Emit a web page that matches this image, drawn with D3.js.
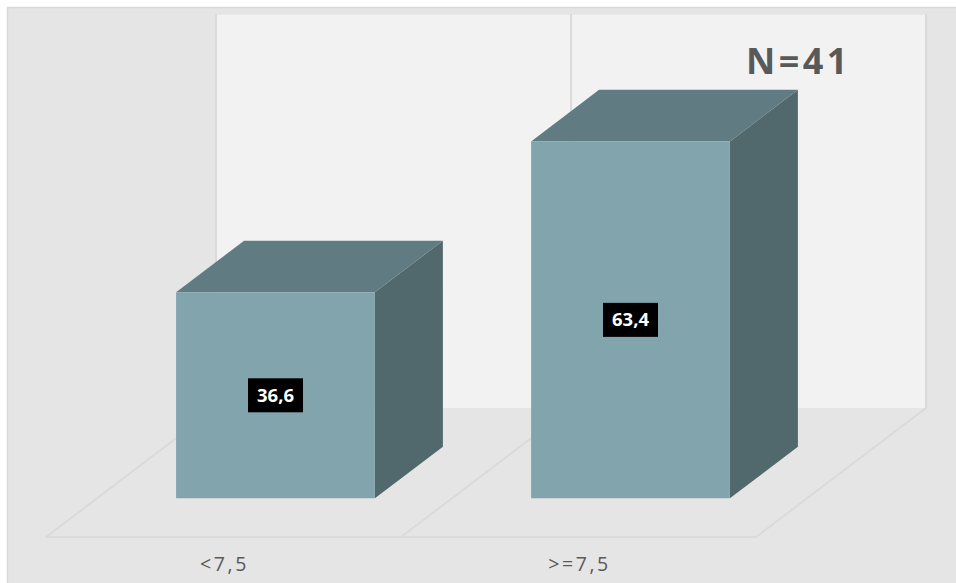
<!DOCTYPE html>
<html>
<head>
<meta charset="utf-8">
<script src="https://cdn.jsdelivr.net/npm/d3@7/dist/d3.min.js"></script>
<style>
html,body{margin:0;padding:0;background:#fff}
svg{display:block}
</style>
</head>
<body>
<svg id="chart" width="956" height="583"></svg>
<script>
const categories = ["<7,5", ">=7,5"];
const values = [36.6, 63.4];
const valueLabels = ["36,6", "63,4"];
const sampleNote = "N=41";
const axisMax = 70;

const svg = d3.select("#chart");

// Oblique projection: a floor point moves up and right as depth goes 0 to 1.
const depthX = d3.scaleLinear().domain([0, 1]).range([0, 170]);
const depthY = d3.scaleLinear().domain([0, 1]).range([0, 129]);
const floorX = d3.scaleLinear().domain([0, categories.length]).range([46, 756]);
const x = d3.scaleBand().domain(categories).range([47, 757]).paddingInner(0.44).paddingOuter(0.22);
const y = d3.scaleLinear().domain([0, axisMax]).range([537, 143]);
const pt = (px, v, d) => [px + depthX(d), y(v) - depthY(d)];
const poly = pts => d3.line()(pts) + "Z";

const chartBg = "#e5e5e5", wallFill = "#f2f2f2", gridColor = "#dadada";
const frontFill = "#82a4ad", topFill = "#607b81", sideFill = "#51686c";

// Chart area with its frame on the top and left edges
svg.append("rect").attr("x", 7.5).attr("y", 7.5).attr("width", 960).attr("height", 590)
  .attr("fill", chartBg).attr("stroke", "#d9d9d9").attr("stroke-width", 1.5);

// Back wall and floor
const [x0, x1] = floorX.range();
svg.append("path")
  .attr("d", poly([pt(x0, 0, 1), pt(x1, 0, 1), pt(x1, axisMax, 1), pt(x0, axisMax, 1)]))
  .attr("fill", wallFill);
svg.append("path")
  .attr("d", d3.line()([pt(x0, axisMax, 1), pt(x1, axisMax, 1)]))
  .attr("fill", "none").attr("stroke", "#e2e2e2").attr("stroke-width", 1);

// Category boundaries run along the floor and up the wall; the outline closes the floor
d3.range(categories.length + 1).forEach(i => {
  const b = floorX(i);
  svg.append("path")
    .attr("d", d3.line()([pt(b, 0, 0), pt(b, 0, 1), pt(b, axisMax, 1)]))
    .attr("fill", "none").attr("stroke", gridColor).attr("stroke-width", 2);
});
svg.append("path")
  .attr("d", d3.line()([pt(x0, 0, 0), pt(x1, 0, 0)]))
  .attr("fill", "none").attr("stroke", gridColor).attr("stroke-width", 2);

// Boxes: the front face sits 0.3 into the floor depth, the back face at 0.7
const dFront = 0.3, dBack = 0.7;
const bars = svg.selectAll("g.bar").data(categories.map((c, i) => ({c, v: values[i], label: valueLabels[i]})))
  .join("g").attr("class", "bar");

bars.append("path").attr("fill", sideFill)
  .attr("d", d => {
    const r = x(d.c) + x.bandwidth();
    return poly([pt(r, 0, dFront), pt(r, 0, dBack), pt(r, d.v, dBack), pt(r, d.v, dFront)]);
  });
bars.append("path").attr("fill", topFill)
  .attr("d", d => {
    const l = x(d.c), r = l + x.bandwidth();
    return poly([pt(l, d.v, dFront), pt(r, d.v, dFront), pt(r, d.v, dBack), pt(l, d.v, dBack)]);
  });
bars.append("path").attr("fill", frontFill)
  .attr("d", d => {
    const l = x(d.c), r = l + x.bandwidth();
    return poly([pt(l, 0, dFront), pt(r, 0, dFront), pt(r, d.v, dFront), pt(l, d.v, dFront)]);
  });

// Value labels on black plates at the middle of each front face
const plateW = 55, plateH = 34;
const plateCenter = d => pt(x(d.c) + x.bandwidth() / 2, d.v / 2, dFront);
bars.append("rect")
  .attr("x", d => plateCenter(d)[0] - plateW / 2)
  .attr("y", d => plateCenter(d)[1] - plateH / 2)
  .attr("width", plateW).attr("height", plateH).attr("fill", "#000");
bars.append("text")
  .attr("x", d => plateCenter(d)[0])
  .attr("y", d => plateCenter(d)[1] + 6.5)
  .attr("text-anchor", "middle")
  .attr("font-family", "'Open Sans', sans-serif")
  .attr("font-weight", 700).attr("font-size", 18.5).attr("fill", "#fff")
  .text(d => d.label);

// Category labels under the floor
svg.selectAll("text.cat").data(categories).join("text").attr("class", "cat")
  .attr("x", d => x(d) + x.bandwidth() / 2)
  .attr("y", 571)
  .attr("text-anchor", "middle")
  .attr("font-family", "'Open Sans', sans-serif")
  .attr("font-size", 19.5).attr("letter-spacing", 2.6).attr("fill", "#595959")
  .text(d => d);

// Sample size note
svg.append("text").attr("x", 746).attr("y", 74)
  .attr("font-family", "'Open Sans', sans-serif")
  .attr("font-weight", 700).attr("font-size", 36).attr("letter-spacing", 3.4).attr("fill", "#595959")
  .text(sampleNote);
</script>
</body>
</html>
